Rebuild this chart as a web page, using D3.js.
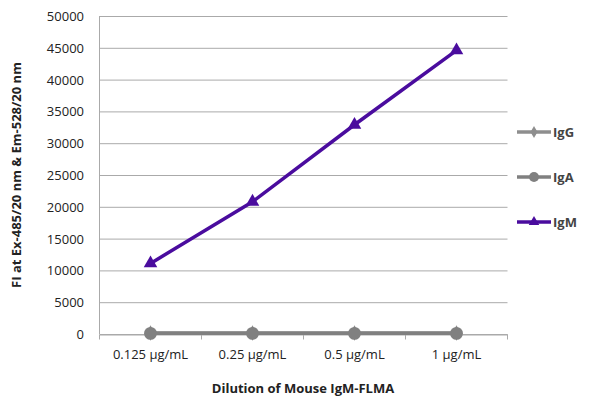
<!DOCTYPE html>
<html><head><meta charset="utf-8">
<script src="https://cdn.jsdelivr.net/npm/d3@7"></script>
<style>body{margin:0;background:#fff}text{font-family:"Open Sans",sans-serif}</style>
</head><body><svg id="c" width="600" height="406"></svg>
<script>
const categories = ["0.125 µg/mL", "0.25 µg/mL", "0.5 µg/mL", "1 µg/mL"];
const igG = [150, 150, 150, 150];
const igA = [100, 100, 100, 100];
const igM = [11100, 20800, 32900, 44600];
const yTicks = [0, 5000, 10000, 15000, 20000, 25000, 30000, 35000, 40000, 45000, 50000];

const series = [
  { name: "IgG", values: igG, color: "#8e8e8e", symbol: d3.symbolDiamond, size: 70 },
  { name: "IgA", values: igA, color: "#808080", symbol: d3.symbolCircle, size: 130 },
  { name: "IgM", values: igM, color: "#4a0c9e", symbol: d3.symbolTriangle, size: 80 },
];

const svg = d3.select("#c");
const x = d3.scaleBand().domain(categories).range([99.5, 507.5]);
const y = d3.scaleLinear().domain([0, 50000]).range([334, 16]);

svg.append("g").selectAll("line").data(yTicks).join("line")
  .attr("x1", 99.5).attr("x2", 507.5)
  .attr("y1", d => y(d) + 0.5).attr("y2", d => y(d) + 0.5)
  .attr("stroke", "#aaa");

svg.append("g").selectAll("text").data(yTicks).join("text")
  .attr("x", 84).attr("y", d => y(d) + 5).attr("text-anchor", "end")
  .attr("font-size", 13).attr("fill", "#222").text(d => d);

const xa = svg.append("g").attr("transform", "translate(0,334.5)")
  .call(d3.axisBottom(x).tickSize(5).tickFormat("").tickSizeOuter(0));
xa.selectAll("line,path").attr("stroke", "#aaa");
xa.selectAll(".tick line").attr("transform", d => `translate(${-x.bandwidth() / 2},0)`);
xa.append("line").attr("x1", 507.5).attr("x2", 507.5).attr("y1", 0).attr("y2", 5).attr("stroke", "#aaa");
svg.append("line").attr("x1", 99.5).attr("x2", 99.5).attr("y1", 16).attr("y2", 334).attr("stroke", "#aaa");

svg.append("g").selectAll("text").data(categories).join("text")
  .attr("x", d => x(d) + x.bandwidth() / 2).attr("y", 359)
  .attr("text-anchor", "middle").attr("font-size", 13).attr("fill", "#222").text(d => d);

const cx = d => x(d) + x.bandwidth() / 2;
const line = d3.line().x((d, i) => cx(categories[i])).y(d => y(d));
series.forEach(s => {
  const g = svg.append("g");
  g.append("path").attr("d", line(s.values)).attr("fill", "none")
    .attr("stroke", s.color).attr("stroke-width", 3.5);
  g.selectAll("path.m").data(s.values).join("path").attr("class", "m")
    .attr("transform", (d, i) => `translate(${cx(categories[i])},${y(d)})`)
    .attr("d", d3.symbol().type(s.symbol).size(s.size)).attr("fill", s.color);
});

const leg = svg.append("g").selectAll("g").data(series).join("g")
  .attr("transform", (d, i) => `translate(0,${132 + i * 45})`);
leg.append("line").attr("x1", 517).attr("x2", 551).attr("stroke", d => d.color).attr("stroke-width", 3.5);
leg.append("path").attr("transform", "translate(534,0)")
  .attr("d", d => d3.symbol().type(d.symbol).size(d.size * 0.6)()).attr("fill", d => d.color);
leg.append("text").attr("x", 553).attr("y", 5).attr("font-size", 13).attr("font-weight", "bold")
  .attr("fill", "#444").text(d => d.name);

svg.append("text").attr("x", 303).attr("y", 393).attr("text-anchor", "middle")
  .attr("font-size", 13).attr("font-weight", "bold").attr("fill", "#222")
  .text("Dilution of Mouse IgM-FLMA");
svg.append("text").attr("transform", "translate(21,175) rotate(-90)").attr("text-anchor", "middle")
  .attr("font-size", 13).attr("font-weight", "bold").attr("fill", "#222")
  .text("FI at Ex-485/20 nm & Em-528/20 nm");
</script></body></html>
